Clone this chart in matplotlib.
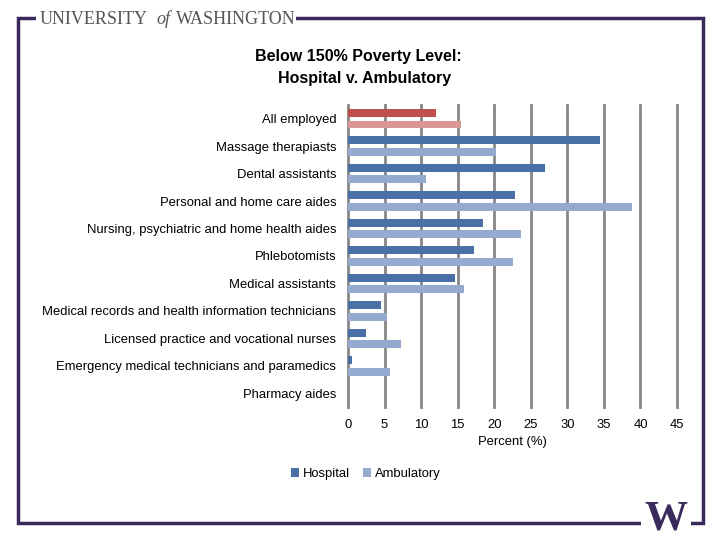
import matplotlib
matplotlib.use("Agg")
import matplotlib.pyplot as plt
from matplotlib.patches import Rectangle, Patch
import numpy as np

# data
categories = [
    "All employed",
    "Massage therapiasts",
    "Dental assistants",
    "Personal and home care aides",
    "Nursing, psychiatric and home health aides",
    "Phlebotomists",
    "Medical assistants",
    "Medical records and health information technicians",
    "Licensed practice and vocational nurses",
    "Emergency medical technicians and paramedics",
    "Pharmacy aides",
]
hospital = [12.1, 34.5, 27.0, 22.9, 18.5, 17.2, 14.7, 4.5, 2.4, 0.5, 0.0]
ambulatory = [15.5, 20.2, 10.7, 38.9, 23.7, 22.5, 15.8, 5.4, 7.2, 5.8, 0.0]
xticks = [0, 5, 10, 15, 20, 25, 30, 35, 40, 45]

c_hosp = "#4A71A5"
c_amb = "#95AACF"
c_hosp_all = "#C0504D"
c_amb_all = "#D99694"
purple = "#3A2A5C"

plt.rcParams["font.family"] = ["Liberation Sans", "DejaVu Sans"]

fig = plt.figure(figsize=(7.2, 5.4), dpi=100)
W, H = 720, 540

# frame, with gaps for the header text and the W logo
fig.patches.append(Rectangle((18 / W, 1 - 523 / H), (703 - 18) / W, (523 - 18) / H,
                             transform=fig.transFigure, fill=False,
                             edgecolor=purple, linewidth=2.5))
fig.patches.append(Rectangle((36 / W, 1 - 26 / H), 260 / W, 14 / H,
                             transform=fig.transFigure, facecolor="white",
                             edgecolor="none", zorder=2))
fig.patches.append(Rectangle((641 / W, 1 - 528 / H), 50 / W, 10 / H,
                             transform=fig.transFigure, facecolor="white",
                             edgecolor="none", zorder=2))
hdr = dict(family="Liberation Serif", fontsize=13, color="#555555",
           va="baseline", ha="left", zorder=3)
fig.text(40 / W, 1 - 24 / H, "UNIVERSITY", **hdr)
fig.text(156 / W, 1 - 24 / H, "of", style="italic", **hdr)
fig.text(176 / W, 1 - 24 / H, "WASHINGTON", **hdr)
fig.text(666 / W, 1 - 530 / H, "W", family="Liberation Serif", fontweight="bold",
         fontsize=31, color=purple, va="baseline", ha="center", zorder=3)

fig.text(358 / W, 1 - 56 / H, "Below 150% Poverty Level:", fontsize=11.5,
         fontweight="bold", ha="center", va="center")
fig.text(365 / W, 1 - 79 / H, "Hospital v. Ambulatory", fontsize=11.5,
         fontweight="bold", ha="center", va="center")

ax = fig.add_axes([348 / W, 1 - 407 / H, (677 - 348) / W, (407 - 105) / H])
y = np.arange(len(categories))
h = 0.29
off = 0.21
hc = [c_hosp_all] + [c_hosp] * (len(categories) - 1)
ac = [c_amb_all] + [c_amb] * (len(categories) - 1)
ax.barh(y - off, hospital, height=h, color=hc, zorder=3)
ax.barh(y + off, ambulatory, height=h, color=ac, zorder=3)

ax.set_xlim(0, 45)
ax.set_ylim(len(categories) - 0.5, -0.5)
ax.set_xticks(xticks)
ax.set_xticklabels([str(t) for t in xticks])
ax.set_yticks(y)
ax.set_yticklabels(categories)
ax.tick_params(axis="y", length=0, pad=8.5, labelsize=9.4)
ax.tick_params(axis="x", length=0, pad=9, labelsize=9.4)
ax.set_xlabel("Percent (%)", fontsize=9.4, labelpad=3)
for t in xticks:
    ax.axvline(t, color="#868686", linewidth=2, zorder=1, clip_on=False)
for s in ax.spines.values():
    s.set_visible(False)

handles = [Patch(facecolor=c_hosp, label="Hospital"),
           Patch(facecolor=c_amb, label="Ambulatory")]
fig.legend(handles=handles, loc="center", bbox_to_anchor=(366 / W, 1 - 474 / H),
           ncol=2, frameon=False, fontsize=9.4, handlelength=0.6, handleheight=0.6,
           handletextpad=0.3, columnspacing=1.0)

fig.savefig("out.png", dpi=100)
